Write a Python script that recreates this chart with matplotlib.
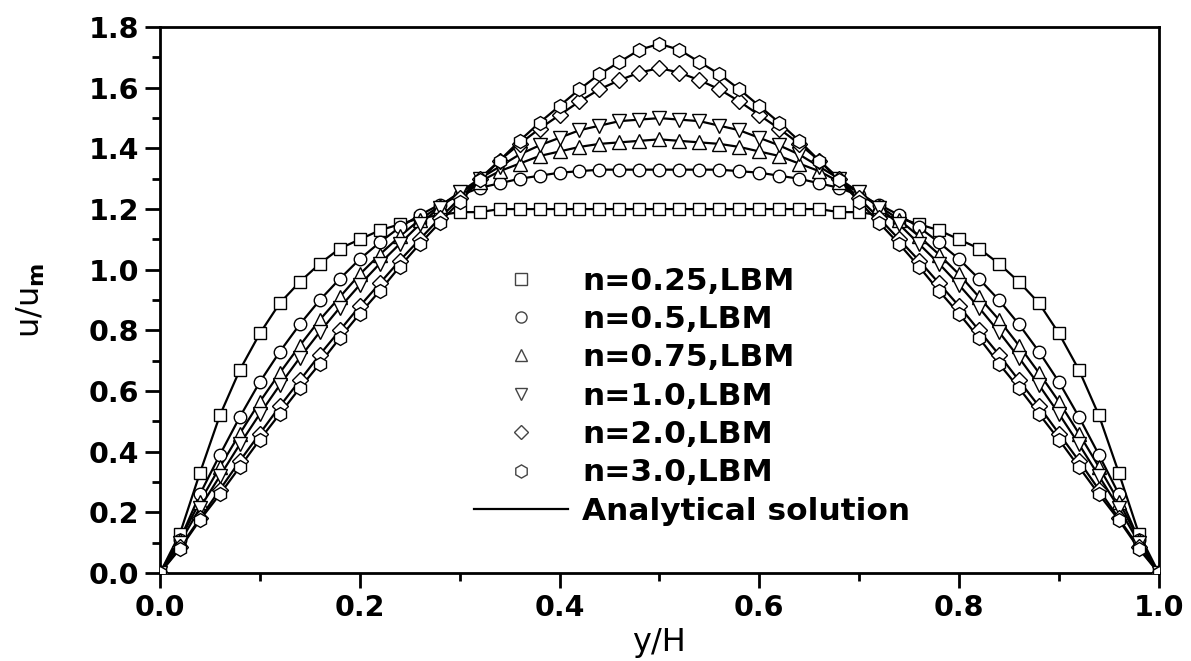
import numpy as np
import matplotlib.pyplot as plt
from matplotlib.lines import Line2D

# y/H positions of the LBM nodes (0 .. 1 every 0.02)
yh = np.round(np.arange(0, 51) * 0.02, 2)

# u/um for one half of the channel (y/H = 0 .. 0.5),
# the other half is the mirror image
u_n025 = [0.00, 0.13, 0.33, 0.52, 0.67, 0.79, 0.89, 0.96, 1.02, 1.07, 1.10, 1.13, 1.15,
          1.17, 1.18, 1.19, 1.19, 1.20, 1.20, 1.20, 1.20, 1.20, 1.20, 1.20, 1.20, 1.20]
u_n05 = [0.00, 0.11, 0.26, 0.39, 0.515, 0.63, 0.73, 0.82, 0.90, 0.97, 1.035, 1.09, 1.14,
         1.18, 1.215, 1.245, 1.27, 1.285, 1.30, 1.31, 1.32, 1.325, 1.33, 1.33, 1.33, 1.33]
u_n075 = [0.00, 0.11, 0.235, 0.35, 0.46, 0.565, 0.66, 0.75, 0.835, 0.91, 0.985, 1.05, 1.11,
          1.165, 1.21, 1.255, 1.29, 1.325, 1.35, 1.375, 1.39, 1.405, 1.415, 1.42, 1.425, 1.43]
u_n1 = [0.00, 0.10, 0.215, 0.32, 0.425, 0.525, 0.62, 0.71, 0.795, 0.875, 0.95, 1.02, 1.085,
        1.15, 1.205, 1.255, 1.30, 1.34, 1.38, 1.41, 1.435, 1.46, 1.475, 1.49, 1.495, 1.50]
u_n2 = [0.00, 0.085, 0.18, 0.275, 0.37, 0.46, 0.55, 0.635, 0.72, 0.80, 0.88, 0.955, 1.03,
        1.10, 1.17, 1.235, 1.30, 1.36, 1.415, 1.465, 1.51, 1.555, 1.595, 1.625, 1.65, 1.665]
u_n3 = [0.00, 0.08, 0.175, 0.26, 0.35, 0.44, 0.525, 0.61, 0.69, 0.775, 0.855, 0.93, 1.01,
        1.085, 1.155, 1.225, 1.295, 1.36, 1.425, 1.485, 1.54, 1.595, 1.645, 1.685, 1.725, 1.745]

labels = ["n=0.25,LBM", "n=0.5,LBM", "n=0.75,LBM", "n=1.0,LBM", "n=2.0,LBM", "n=3.0,LBM"]
markers = ["s", "o", "^", "v", "D", "h"]
sizes = [8.5, 9, 9.5, 9.5, 8, 10]
leg_sizes = [8, 8, 9, 9, 7.5, 9.5]
halves = [u_n025, u_n05, u_n075, u_n1, u_n2, u_n3]


def full(half):
    half = list(half)
    return np.array(half + half[-2::-1])


plt.rcParams['font.family'] = 'DejaVu Sans'
plt.rcParams['font.weight'] = 'bold'

fig = plt.figure(figsize=(11.91, 6.61), dpi=100)
ax = fig.add_axes([0.1343, 0.133, 0.8387, 0.826])

for h, m, ms in zip(halves, markers, sizes):
    u = full(h)
    ax.plot(yh, u, color="black", lw=1.6, zorder=2)
    ax.plot(yh, u, ls="none", marker=m, ms=ms, mfc="white", mec="black", mew=1.0, zorder=3)

ax.set_xlim(0, 1.0)
ax.set_ylim(0, 1.8)
ax.set_xticks(np.arange(0, 1.01, 0.2))
ax.set_yticks(np.arange(0, 1.81, 0.2))
ax.set_xticks(np.arange(0.1, 1.0, 0.2), minor=True)
ax.set_yticks(np.arange(0.1, 1.8, 0.2), minor=True)
ax.xaxis.set_major_formatter(plt.FormatStrFormatter('%.1f'))
ax.yaxis.set_major_formatter(plt.FormatStrFormatter('%.1f'))
ax.tick_params(which="major", direction="out", length=11, width=2, labelsize=20.5, pad=4)
ax.tick_params(which="minor", direction="out", length=6, width=2)
ax.tick_params(top=False, right=False, which="both")
for s in ax.spines.values():
    s.set_linewidth(2)

ax.set_xlabel("y/H", fontsize=23, labelpad=4)
ax.set_ylabel(r"u/u$_{\mathbf{m}}$", fontsize=23, labelpad=30)

handles = [Line2D([], [], ls="none", marker=m, ms=ms, mfc="white", mec="#444444", mew=1.0)
           for m, ms in zip(markers, leg_sizes)]
handles.append(Line2D([], [], color="black", lw=1.6))
ax.legend(handles, labels + ["Analytical solution"], loc="upper left",
          bbox_to_anchor=(0.299, 0.59), frameon=False, fontsize=22.5,
          handlelength=3.0, handletextpad=0.45, labelspacing=0.3, borderpad=0)

fig.savefig("out.png", dpi=100)
